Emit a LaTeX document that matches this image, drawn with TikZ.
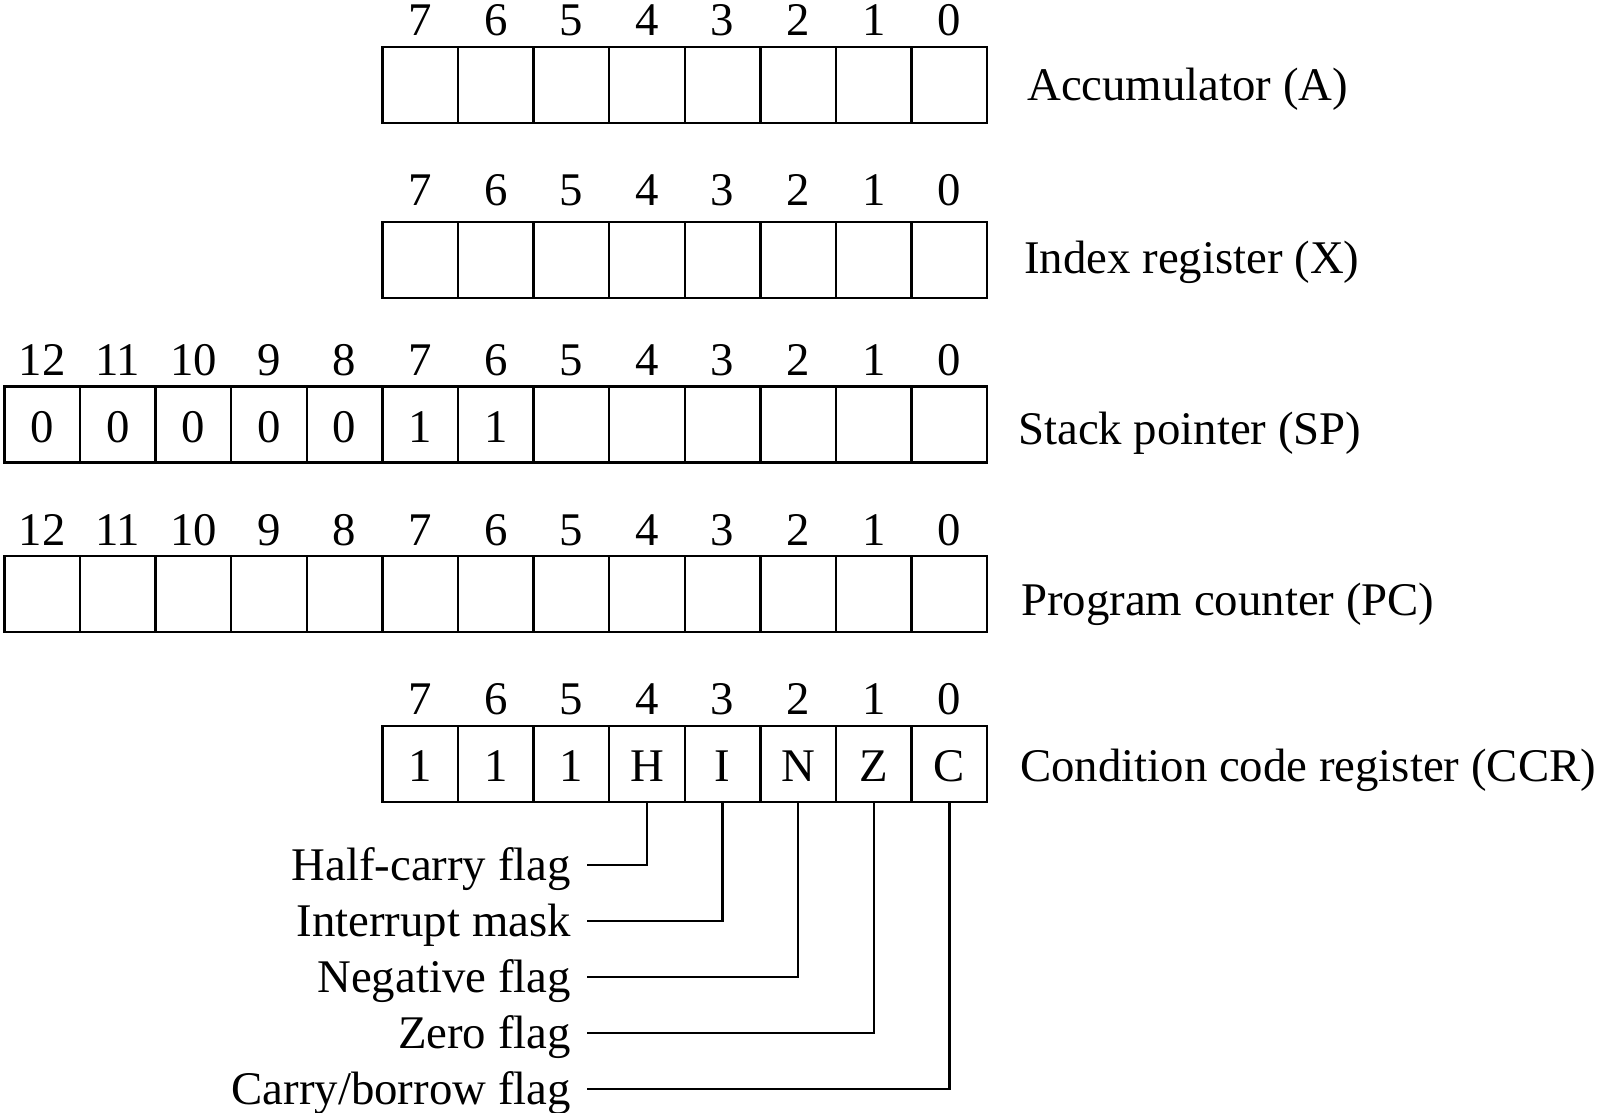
\documentclass[tikz,border=0pt]{standalone}
\usepackage{fontspec}
\setmainfont{Liberation Serif}
\begin{document}
\begin{tikzpicture}[x=1pt,y=-1pt,
  cell/.style={draw, line width=2.4pt, rectangle, minimum width=75.6pt, minimum height=76pt, inner sep=0pt},
  txt/.style={inner sep=0pt, font=\fontsize{46.8}{56}\selectfont},
  ctxt/.style={txt, text height=30.8pt, text depth=0pt},
  lead/.style={line width=2.4pt}]
\useasboundingbox[fill=white] (0,0) rectangle (1599,1113);
% registers: name / top y / highest bit / gap of bit numbers
\foreach \r/\yt/\n/\g in {A/47/7/10, X/222/7/15, S/386.5/12/10, P/556.25/12/10, C/726/7/10} {
  \foreach \b in {0,...,\n} {
    \node[cell] (\r\b) at ({949.4-75.6*\b}, {\yt+38}) {};
    \node[txt, anchor=base] (\r\b n) at ([yshift=\g pt]\r\b.north) {\b};
  }
}
% cell contents
\foreach \b/\t in {12/0, 11/0, 10/0, 9/0, 8/0, 7/1, 6/1} {
  \node[ctxt] (S\b t) at ([yshift=-3pt]S\b) {\t};
}
\foreach \b/\t in {7/1, 6/1, 5/1, 4/H, 3/I, 2/N, 1/Z, 0/C} {
  \node[ctxt] (C\b t) at ([yshift=-2pt]C\b) {\t};
}
% register names
\node[ctxt, anchor=west] (labA) at (1027, 85) {Accumulator (A)};
\node[ctxt, anchor=west] (labX) at (1024, 258) {Index register (X)};
\node[ctxt, anchor=west] (labS) at (1018, 429) {Stack pointer (SP)};
\node[ctxt, anchor=west] (labP) at (1021, 600) {Program counter (PC)};
\node[ctxt, anchor=west] (labC) at (1020, 766) {Condition code register (CCR)};
% flag labels
\node[ctxt, anchor=east] (fH) at (571, 865) {Half-carry flag};
\node[ctxt, anchor=east] (fI) at (571, 921) {Interrupt mask};
\node[ctxt, anchor=east] (fN) at (571, 977) {Negative flag};
\node[ctxt, anchor=east] (fZ) at (571, 1033) {Zero flag};
\node[ctxt, anchor=east] (fC) at (571, 1089) {Carry/borrow flag};
\draw[lead] ([xshift=16pt]fH.east) -| (C4.south);
\draw[lead] ([xshift=16pt]fI.east) -| (C3.south);
\draw[lead] ([xshift=16pt]fN.east) -| (C2.south);
\draw[lead] ([xshift=16pt]fZ.east) -| (C1.south);
\draw[lead] ([xshift=16pt]fC.east) -| (C0.south);
\end{tikzpicture}
\end{document}
